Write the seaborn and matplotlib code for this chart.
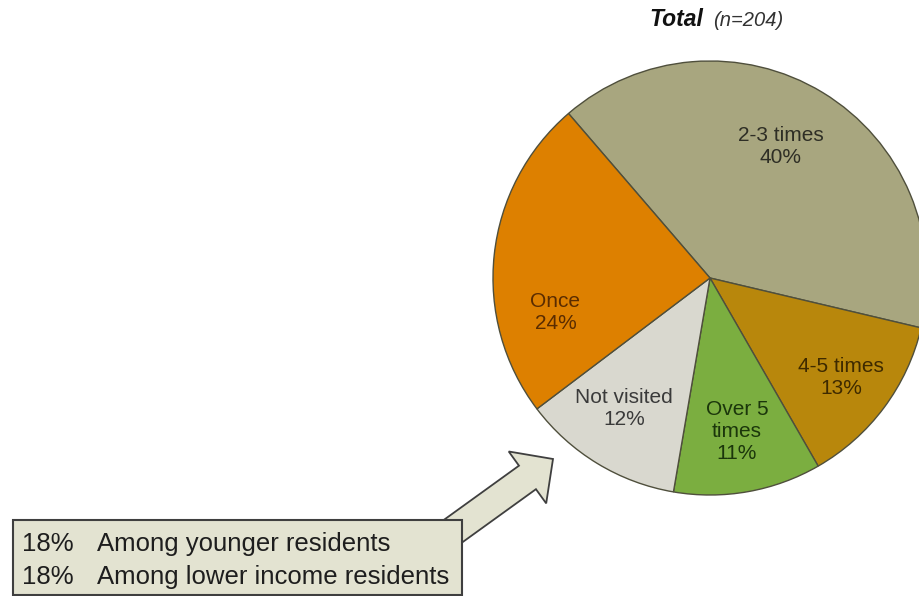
import numpy as np
import matplotlib
matplotlib.use("Agg")
import matplotlib.pyplot as plt
import seaborn as sns
from matplotlib.patches import FancyArrow, Rectangle

# ---- data ----
categories = ["2-3 times", "4-5 times", "Over 5 times", "Not visited", "Once"]
values = [40, 13, 11, 12, 24]
slice_labels = ["2-3 times", "4-5 times", "Over 5\ntimes", "Not visited", "Once"]
title_main = "Total"
title_n = "(n=204)"
callout_pcts = ["18%", "18%"]
callout_groups = ["Among younger residents", "Among lower income residents"]

# ---- styles ----
colors = ["#A8A67F", "#B8870C", "#7BAE40", "#D9D8CF", "#DD8000"]
text_colors = ["#2E2E25", "#3E2A00", "#1B360B", "#3A3A3A", "#5A2C00"]
label_dist = [0.69, 0.76, 0.72, 0.72, 0.73]
label_ang_off = [3.0, -0.5, -0.2, -2.2, 18.7]

sns.set_theme(style="white")
plt.rcParams["font.family"] = ["Liberation Sans", "DejaVu Sans"]

W, H = 919, 596
fig = plt.figure(figsize=(W / 100, H / 100), dpi=100)
ax = fig.add_axes([0, 0, 1, 1])

cx, cy, R = 710, H - 278, 217
start = 130.7
ax.pie(values, colors=colors, startangle=start, counterclock=False,
       center=(cx, cy), radius=R,
       wedgeprops=dict(edgecolor="#4F4F3C", linewidth=1.0))

vals = np.array(values, dtype=float)
cum = np.cumsum(vals) - vals / 2
mids = start - cum / vals.sum() * 360
for lab, v, m, d, off, tc in zip(slice_labels, values, mids, label_dist,
                                 label_ang_off, text_colors):
    a = np.deg2rad(m + off)
    ax.text(cx + d * R * np.cos(a), cy + d * R * np.sin(a), f"{lab}\n{v}%",
            ha="center", va="center", fontsize=15, color=tc,
            linespacing=1.2, zorder=5)

# title
ax.text(703, H - 26, title_main, ha="right", va="baseline", fontsize=16.5,
        fontweight="bold", fontstyle="italic", color="#111111")
ax.text(713, H - 26, title_n, ha="left", va="baseline", fontsize=14.5,
        fontstyle="italic", color="#333333")

# callout arrow and box
fill = "#E3E3D1"
edge = "#3F3F3F"
ax.add_patch(FancyArrow(420, H - 555, 133, 96, width=29, head_width=64,
                        head_length=31.5, length_includes_head=True,
                        facecolor=fill, edgecolor=edge, linewidth=1.3,
                        zorder=3))
ax.add_patch(Rectangle((13, H - 595), 449, 75, facecolor=fill,
                       edgecolor=edge, linewidth=1.5, zorder=4))
for i, (p, g) in enumerate(zip(callout_pcts, callout_groups)):
    yb = H - 551 - i * 33
    ax.text(22, yb, p, ha="left", va="baseline", fontsize=18.5,
            color="#1E1E1E", zorder=6)
    ax.text(97, yb, g, ha="left", va="baseline", fontsize=18.5,
            color="#1E1E1E", zorder=6)

ax.set_xlim(0, W)
ax.set_ylim(0, H)
ax.set_axis_off()

fig.savefig("out.png", dpi=100)
